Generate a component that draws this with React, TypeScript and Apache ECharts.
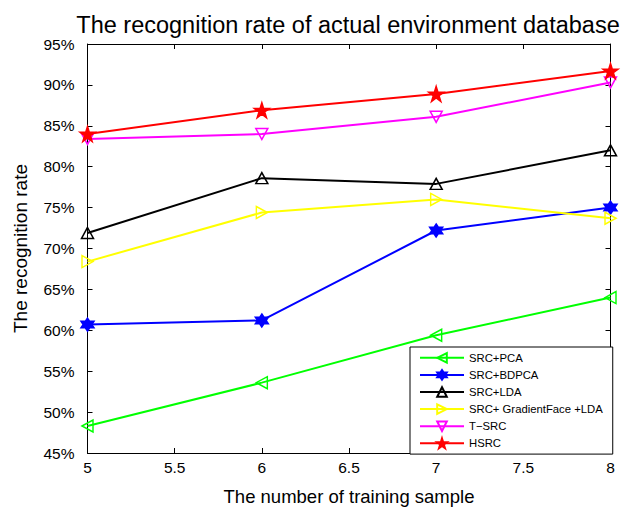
import React, { useEffect, useRef } from "react";
import * as echarts from "echarts";

const xValues = [5, 6, 7, 8];
const seriesNames = ["SRC+PCA", "SRC+BDPCA", "SRC+LDA", "SRC+ GradientFace +LDA", "T\u2212SRC", "HSRC"];
const pcaValues = [48.3, 53.6, 59.4, 64.0];
const bdpcaValues = [60.7, 61.2, 72.2, 75.0];
const ldaValues = [71.9, 78.6, 77.9, 82.0];
const gradValues = [68.4, 74.4, 76.0, 73.7];
const tsrcValues = [83.4, 84.0, 86.1, 90.3];
const hsrcValues = [84.0, 86.9, 88.9, 91.7];

const colors = ["#00ff00", "#0000ff", "#000000", "#ffff00", "#ff00ff", "#ff0000"];
const symbols = [
  "path://M0 50 L86.6 0 L86.6 100 Z",
  "path://M50 0 L93.3 75 L6.7 75 Z M50 100 L6.7 25 L93.3 25 Z",
  "path://M50 0 L100 86.6 L0 86.6 Z",
  "path://M0 0 L86.6 50 L0 100 Z",
  "path://M0 0 L100 0 L50 86.6 Z",
  "path://M50 0 L61.23 34.55 L97.55 34.55 L68.17 55.9 L79.39 90.45 L50 69.1 L20.61 90.45 L31.83 55.9 L2.45 34.55 L38.77 34.55 Z",
];
const filled = [false, true, false, false, false, true];
const sizes: any[] = [[11, 12], [13, 13], [12, 11], [11, 12], [12, 11], [15, 15]];
const allValues = [pcaValues, bdpcaValues, ldaValues, gradValues, tsrcValues, hsrcValues];

const FONT = "Liberation Sans, Arial, sans-serif";

export default function App() {
  const ref = useRef<HTMLDivElement>(null);
  useEffect(() => {
    document.body.style.margin = "0";
    const chart = echarts.init(ref.current!, null, { renderer: "svg" });
    const axisLine = { show: true, lineStyle: { color: "#000", width: 1 } };
    const tick = { show: true, inside: true, length: 5, lineStyle: { color: "#000" } };
    chart.setOption({
      animation: false,
      backgroundColor: "#fff",
      title: {
        text: "The recognition rate of actual environment database",
        left: 343,
        textAlign: "center",
        top: 8,
        textStyle: { fontFamily: FONT, fontSize: 23.5, fontWeight: "normal", color: "#000" },
      },
      grid: { left: 87.5, right: 17.5, top: 44, bottom: 55.5 },
      legend: {
        orient: "vertical",
        left: 410,
        top: 347,
        padding: [5, 10, 5, 9],
        itemGap: 5.5,
        itemWidth: 44,
        itemHeight: 12,
        backgroundColor: "#fff",
        borderColor: "#000",
        borderWidth: 1,
        borderRadius: 0,
        textStyle: { fontFamily: FONT, fontSize: 11.3, color: "#000" },
        data: seriesNames,
      },
      xAxis: [
        {
          type: "value",
          min: 5,
          max: 8,
          interval: 0.5,
          name: "The number of training sample",
          nameLocation: "middle",
          nameGap: 34,
          nameTextStyle: { fontFamily: FONT, fontSize: 18.5, color: "#000" },
          axisLine,
          axisTick: tick,
          splitLine: { show: false },
          axisLabel: { fontFamily: FONT, fontSize: 15.5, color: "#000", margin: 6 },
        },
        {
          type: "value",
          position: "top",
          min: 5,
          max: 8,
          interval: 0.5,
          axisLine,
          axisTick: tick,
          splitLine: { show: false },
          axisLabel: { show: false },
        },
      ],
      yAxis: [
        {
          type: "value",
          min: 45,
          max: 95,
          interval: 5,
          name: "The recognition rate",
          nameLocation: "middle",
          nameGap: 58,
          nameTextStyle: { fontFamily: FONT, fontSize: 19, color: "#000" },
          axisLine,
          axisTick: tick,
          splitLine: { show: false },
          axisLabel: { fontFamily: FONT, fontSize: 15.5, color: "#000", margin: 13, formatter: (v: number) => v + "%" },
        },
        {
          type: "value",
          position: "right",
          min: 45,
          max: 95,
          interval: 5,
          axisLine,
          axisTick: tick,
          splitLine: { show: false },
          axisLabel: { show: false },
        },
      ],
      series: allValues.map((vals, i) => ({
        name: seriesNames[i],
        type: "line",
        data: vals.map((v, j) => [xValues[j], v]),
        symbol: symbols[i],
        symbolSize: sizes[i],
        showAllSymbol: true,
        lineStyle: { color: colors[i], width: 2 },
        itemStyle: {
          color: filled[i] ? colors[i] : "rgba(255,255,255,0)",
          borderColor: colors[i],
          borderWidth: 1.5,
        },
        emphasis: { disabled: true },
        z: 2 + i,
      })),
    });
    return () => chart.dispose();
  }, []);
  return <div ref={ref} style={{ width: 628, height: 511 }} />;
}
